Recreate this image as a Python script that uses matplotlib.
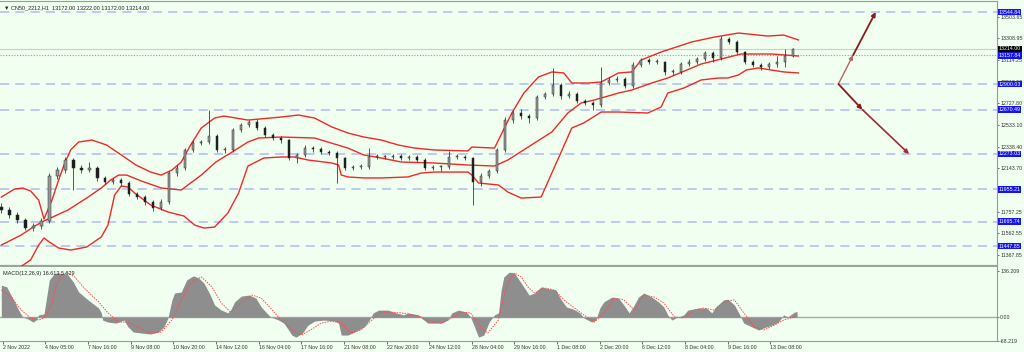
import numpy as np
import matplotlib.pyplot as plt

plt.rcParams["font.family"] = ["Liberation Sans", "DejaVu Sans"]

BG = "#f0fff0"

# ---- candles (one every 6 hourly bars) ----
first_open = 11800
closes = [11771, 11726, 11681, 11609, 11627, 11672, 12075, 12129, 12219, 12147,
          12129, 12147, 12058, 12022, 12040, 12013, 11914, 11887, 11842, 11789,
          11842, 12102, 12147, 12309, 12371, 12380, 12434, 12309, 12309, 12488,
          12533, 12560, 12506, 12443, 12416, 12398, 12237, 12264, 12326, 12317,
          12291, 12282, 12237, 12147, 12156, 12156, 12246, 12246, 12246, 12255,
          12237, 12246, 12219, 12147, 12156, 12156, 12246, 12246, 12237, 12022,
          12075, 12120, 12309, 12577, 12640, 12613, 12595, 12784, 12810, 12891,
          12793, 12810, 12748, 12730, 12712, 12909, 12936, 12945, 12882, 13070,
          13115, 13097, 13097, 13008, 13008, 13079, 13097, 13124, 13178, 13133,
          13303, 13277, 13187, 13097, 13070, 13052, 13079, 13097, 13151, 13214]
highs = [11830, 11795, 11750, 11700, 11650, 11695, 12100, 12160, 12245, 12235,
         12170, 12200, 12165, 12075, 12060, 12060, 12030, 11935, 11905, 11860,
         11870, 12120, 12175, 12330, 12395, 12400, 12667, 12450, 12335, 12510,
         12555, 12580, 12585, 12520, 12460, 12430, 12410, 12285, 12350, 12345,
         12335, 12310, 12300, 12250, 12175, 12180, 12326, 12270, 12265, 12275,
         12275, 12265, 12265, 12235, 12175, 12175, 12300, 12270, 12265, 12250,
         12100, 12140, 12330, 12600, 12665, 12680, 12630, 12800, 12830, 13044,
         12905, 12835, 12830, 12765, 12745, 13052, 12960, 12970, 12960, 13095,
         13135, 13135, 13120, 13110, 13035, 13100, 13120, 13145, 13200, 13195,
         13330, 13320, 13290, 13200, 13115, 13085, 13100, 13150, 13215, 13222]
lows = [11745, 11700, 11655, 11590, 11585, 11600, 11650, 12050, 12100, 11950,
        12100, 12110, 12035, 12000, 12000, 11990, 11895, 11865, 11820, 11760,
        11770, 11825, 12080, 12125, 12290, 12350, 12360, 12290, 12285, 12290,
        12470, 12515, 12490, 12425, 12400, 12375, 12215, 12190, 12245, 12295,
        12270, 12260, 12013, 12125, 12130, 12135, 12140, 12225, 12225, 12230,
        12215, 12220, 12200, 12125, 12130, 12120, 12140, 12225, 12215, 11816,
        11990, 12055, 12100, 12290, 12555, 12590, 12550, 12575, 12765, 12790,
        12770, 12775, 12730, 12710, 12667, 12695, 12890, 12915, 12860, 12865,
        13050, 13075, 13075, 12985, 12985, 12990, 13060, 13080, 13105, 13097,
        13115, 13255, 13165, 13075, 13050, 13030, 13035, 13055, 13050, 13140]

# ---- Bollinger bands (bar index, price) ----
bb_up_x = [0, 10, 16, 22, 28, 32, 38, 43, 47, 52, 58, 68, 79, 90, 101, 112, 120,
           128, 135, 142, 150, 160, 167, 185, 210, 223, 235, 248, 260, 272, 285,
           298, 310, 325, 350, 353, 370, 373, 383, 392, 403, 413, 422, 428, 440,
           450, 463, 473, 480, 495, 518, 535, 553, 575, 587, 598]
bb_up_y = [11887, 11959, 11968, 11941, 11860, 11690, 11860, 12040, 12174, 12309,
           12380, 12398, 12353, 12264, 12174, 12111, 12084, 12129, 12201, 12353,
           12506, 12595, 12613, 12577, 12604, 12622, 12595, 12515, 12461, 12425,
           12398, 12353, 12326, 12309, 12300, 12335, 12326, 12398, 12640, 12819,
           12963, 13008, 12999, 12909, 12909, 12918, 12999, 13008, 13115, 13187,
           13277, 13321, 13357, 13330, 13339, 13295]
bb_mid_x = [0, 15, 25, 32, 50, 64, 75, 82, 88, 94, 105, 120, 135, 150, 161, 172,
            185, 193, 210, 235, 245, 260, 272, 285, 300, 325, 350, 370, 380, 400,
            413, 425, 435, 445, 463, 473, 488, 500, 525, 555, 578, 598]
bb_mid_y = [11457, 11547, 11627, 11672, 11771, 11878, 11968, 12040, 12084, 12084,
            12031, 11968, 11950, 12084, 12201, 12282, 12380, 12416, 12425, 12416,
            12380, 12326, 12264, 12237, 12201, 12192, 12174, 12165, 12219, 12371,
            12470, 12640, 12730, 12757, 12819, 12846, 12909, 12954, 13079, 13169,
            13169, 13151]
bb_lo_x = [13, 22, 28, 32, 36, 43, 52, 64, 75, 80, 82, 85, 90, 95, 100, 112, 125,
           137, 145, 152, 160, 170, 178, 185, 197, 210, 220, 230, 248, 253, 255,
           260, 272, 285, 305, 315, 325, 350, 353, 358, 373, 380, 390, 405, 413,
           428, 437, 450, 463, 485, 495, 500, 512, 525, 538, 545, 553, 559, 568,
           587, 598]
bb_lo_y = [11251, 11323, 11457, 11520, 11484, 11430, 11412, 11439, 11529, 11636,
           11744, 11905, 11986, 11977, 11923, 11816, 11753, 11717, 11636, 11609,
           11618, 11744, 11923, 12165, 12237, 12246, 12246, 12219, 12192, 12174,
           12085, 12067, 12058, 12058, 12067, 12102, 12111, 12111, 12085, 12013,
           11995, 11932, 11878, 11887, 12102, 12506, 12551, 12649, 12649, 12640,
           12694, 12819, 12864, 12936, 12954, 12954, 12981, 13026, 13044, 13008,
           12999]

# ---- horizontal levels ----
levels = [13544.84, 13157.84, 12900.03, 12670.49, 12273.03, 11955.21, 11665.74, 11447.85]
level_styles = ["dash", "dot", "dash", "dash", "dash", "dash", "dash", "dash"]
last_price = 13214.00
price_ticks = [11367.85, 11562.55, 11757.25, 12143.70, 12338.40, 12533.10,
               12727.80, 12919.55, 13114.25, 13308.95, 13503.65]

# ---- projection arrows (bar, price) ----
arrow_start = (628, 12900.03)
arrow_up = [(639, 13157.84), (656, 13544.84)]
arrow_down = [(646, 12670.49), (681, 12273.03)]

# ---- MACD ----
macd_x = [0, 4, 8, 13, 16, 20, 24, 26, 28, 32, 34, 36, 39, 41, 45, 50, 54, 58, 65,
          73, 75, 76, 80, 86, 92, 95, 99, 105, 112, 118, 122, 125, 128, 130, 135,
          139, 144, 148, 152, 156, 160, 165, 170, 172, 175, 180, 186, 191, 195, 199,
          202, 208, 212, 218, 221, 226, 230, 235, 242, 250, 253, 255, 260, 265, 272,
          276, 279, 283, 290, 296, 302, 305, 313, 316, 320, 330, 335, 338, 343, 349,
          352, 355, 358, 362, 366, 370, 373, 375, 377, 381, 385, 390, 396, 400, 405,
          411, 416, 420, 424, 429, 434, 437, 443, 446, 449, 452, 458, 463, 467, 471,
          474, 478, 482, 488, 493, 497, 500, 503, 506, 512, 515, 523, 529, 533, 536,
          542, 545, 550, 554, 557, 563, 568, 572, 578, 583, 587, 590, 595, 597]
macd_v = [94, 89, 60, 21, 1, -5, -14, -8, 7, 10, 59, 109, 124, 129, 129, 124, 103,
          74, 51, 27, 13, -8, -14, -17, -8, -28, -43, -46, -49, -43, -28, -2, 51, 71,
          74, 109, 121, 115, 100, 71, 36, 21, 13, 21, 45, 62, 65, 56, 30, 13, 1, -8,
          -17, -52, -58, -46, -23, -11, -8, -11, -17, -52, -52, -43, -28, -8, 13, 21,
          21, 13, 7, 13, 7, -5, -17, -17, -8, 13, 21, 15, 1, -28, -58, -52, -14, 7,
          13, 80, 118, 132, 129, 100, 65, 71, 89, 83, 80, 51, 30, 24, 13, -2, -14, -8,
          27, 45, 59, 56, 36, 13, 30, 59, 71, 59, 45, 30, 7, -8, -2, 7, 21, 27, 27, 13,
          30, 51, 53, 36, 7, -17, -28, -37, -31, -23, -14, 7, 1, 15, 17]
sig_x = [0, 8, 15, 22, 28, 32, 38, 41, 45, 50, 55, 62, 73, 80, 88, 95, 103, 112,
         120, 128, 135, 142, 150, 158, 165, 172, 180, 188, 195, 202, 210, 218, 225,
         232, 240, 248, 255, 262, 270, 278, 285, 292, 300, 308, 315, 322, 330, 338,
         345, 352, 360, 365, 373, 375, 380, 385, 390, 395, 400, 407, 415, 422, 430,
         437, 445, 452, 460, 467, 475, 482, 490, 497, 505, 512, 520, 527, 535, 542,
         550, 557, 565, 572, 580, 587, 595, 597]
sig_v = [80, 56, 21, -2, -8, -2, 42, 89, 124, 129, 118, 86, 45, 13, -14, -14, -31,
         -46, -43, -8, 51, 100, 118, 89, 42, 15, 42, 65, 56, 27, -8, -37, -52, -37,
         -17, -11, -17, -46, -37, -8, 15, 15, 13, 7, 1, -14, -17, -2, 15, 13, -31,
         -46, -8, 30, 100, 129, 118, 89, 71, 86, 80, 51, 27, 7, -14, 13, 56, 51, 21,
         65, 59, 42, 1, -2, 21, 27, 21, 45, 51, 13, -28, -37, -23, -8, 1, 6]
macd_ticks = [136.209, 0.0, -68.219]

# ---- time axis ----
tick_labels = ["2 Nov 2022", "4 Nov 05:00", "7 Nov 16:00", "9 Nov 08:00",
               "10 Nov 20:00", "14 Nov 12:00", "16 Nov 04:00", "17 Nov 16:00",
               "21 Nov 08:00", "22 Nov 20:00", "24 Nov 12:00", "28 Nov 04:00",
               "29 Nov 16:00", "1 Dec 08:00", "2 Dec 20:00", "6 Dec 12:00",
               "8 Dec 04:00", "9 Dec 16:00", "13 Dec 08:00"]
tick_bars = np.arange(len(tick_labels)) * 32 + 1
candle_bars = np.arange(len(closes)) * 6

FS = 3.8

fig = plt.figure(figsize=(10.24, 3.52), dpi=100, facecolor=BG)
ax = fig.add_axes([0, 86 / 352, 997 / 1024, 265 / 352], facecolor=BG)
mx = fig.add_axes([0, 11 / 352, 997 / 1024, 74 / 352], facecolor=BG, sharex=ax)

# levels
for lv, st in zip(levels, level_styles):
    if st == "dot":
        ax.axhline(lv, color="#7f9be0", lw=0.8, ls=(0, (1, 1.5)), zorder=1)
    else:
        ax.axhline(lv, color="#aebcf2", lw=1.1, ls=(0, (6, 4)), zorder=1)
ax.axhline(last_price, color="#c8d2c8", lw=0.8, zorder=1)

# bollinger
for bx, by in [(bb_up_x, bb_up_y), (bb_mid_x, bb_mid_y), (bb_lo_x, bb_lo_y)]:
    ax.plot(bx, by, color="#f02828", lw=1.0, zorder=3)

# candles
c = np.array(closes, float)
o = np.r_[first_open, c[:-1]]
up = c >= o
ax.vlines(candle_bars, lows, highs, color="#3a3a3a", lw=0.6, zorder=4)
ax.bar(candle_bars, np.maximum(np.abs(c - o), 6), bottom=np.minimum(o, c), width=1.8,
       color=np.where(up, "#9a9a9a", "#1c1c1c"), edgecolor="#2a2a2a", lw=0.35, zorder=5)

# arrows
def arrow(a, b, col, lw):
    ax.annotate("", xy=b, xytext=a, zorder=6,
                arrowprops=dict(arrowstyle="-|>", color=col, lw=lw,
                                mutation_scale=6, shrinkA=0, shrinkB=0))

arrow(arrow_start, arrow_up[0], "#b06a60", 1.0)
arrow(arrow_up[0], arrow_up[1], "#8b1a1a", 1.3)
arrow(arrow_start, arrow_down[0], "#8b1a1a", 1.3)
arrow(arrow_down[0], arrow_down[1], "#9a3030", 1.2)

ax.set_xlim(-1, 747)
ax.set_ylim(11269, 13644)
ax.yaxis.tick_right()
ax.set_yticks(price_ticks)
ax.set_yticklabels([f"{t:.2f}" for t in price_ticks])
ax.tick_params(axis="y", labelsize=FS, length=1.5, pad=0.8, colors="#333333", width=0.5)
ax.tick_params(axis="x", bottom=False, labelbottom=False)
ax.spines["left"].set_visible(False)
for s in ["top", "right"]:
    ax.spines[s].set_color("#9a9a9a")
    ax.spines[s].set_linewidth(0.8)
ax.spines["bottom"].set_color("#9aa59a")
ax.spines["bottom"].set_linewidth(1.6)

# label boxes on price scale
for lv in levels:
    ax.annotate(f"{lv:.2f}", xy=(1.0015, lv), xycoords=("axes fraction", "data"),
                fontsize=FS, color="white", va="center", ha="left", zorder=10,
                annotation_clip=False,
                bbox=dict(boxstyle="square,pad=0.15", fc="#1414f0", ec="none"))
ax.annotate(f"{last_price:.2f}", xy=(1.0015, last_price), xycoords=("axes fraction", "data"),
            fontsize=FS, color="white", va="center", ha="left", zorder=10,
            annotation_clip=False,
            bbox=dict(boxstyle="square,pad=0.15", fc="#000000", ec="none"))

ax.text(0.004, 0.985, "\u25bc CN50_2212,H1  13172.00 13222.00 13172.00 13214.00",
        transform=ax.transAxes, fontsize=FS + 0.2, color="#222222", va="top", ha="left")

# MACD
mx.fill_between(macd_x, 0, macd_v, color="#8e8e8e", lw=0, zorder=2)
mx.axhline(0, color="#a8a8a8", lw=1.0, zorder=1)
mx.plot(sig_x, sig_v, color="#ff4a4a", lw=0.7, ls=(0, (1.5, 1.2)), zorder=3)
mx.set_ylim(-69.3, 147)
mx.yaxis.tick_right()
mx.set_yticks(macd_ticks)
mx.set_yticklabels(["136.209", "0.00", "-68.219"])
mx.tick_params(axis="y", labelsize=FS, length=1.5, pad=0.8, colors="#333333", width=0.5)
mx.set_xticks(tick_bars)
mx.set_xticklabels(tick_labels, ha="left")
mx.tick_params(axis="x", labelsize=FS, length=2, pad=1, colors="#333333", width=0.5)
mx.spines["left"].set_visible(False)
mx.spines["top"].set_visible(False)
for s in ["right", "bottom"]:
    mx.spines[s].set_color("#9a9a9a")
    mx.spines[s].set_linewidth(0.8)
mx.text(0.003, 0.95, "MACD(12,26,9) 16.613 5.629", transform=mx.transAxes,
        fontsize=FS + 0.2, color="#222222", va="top", ha="left")

fig.savefig("out.png", dpi=100, facecolor=BG)
